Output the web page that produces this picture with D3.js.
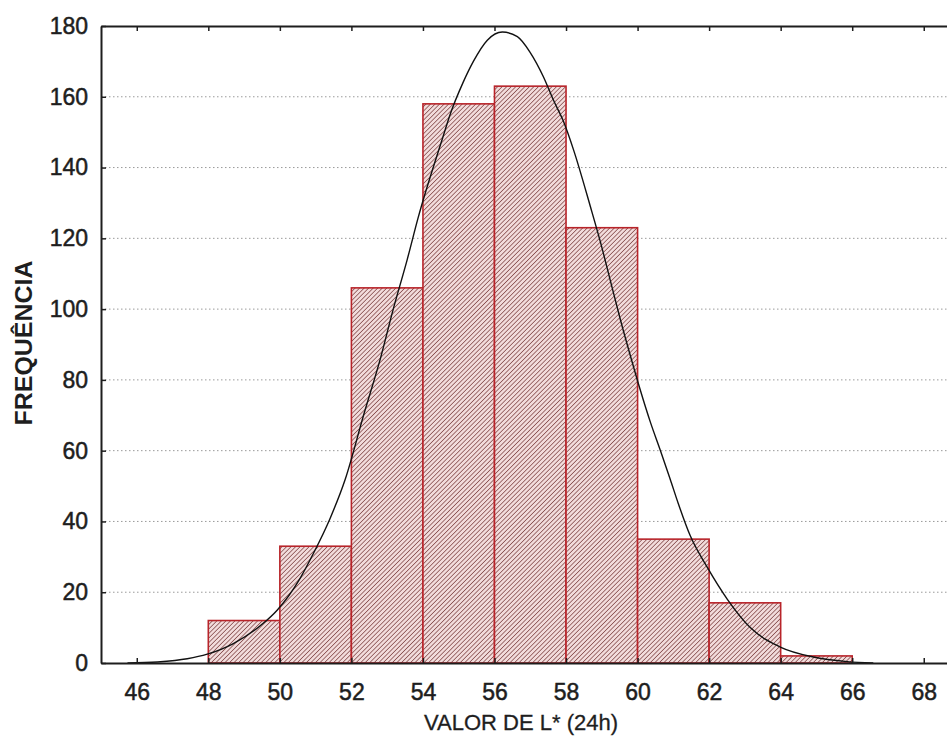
<!DOCTYPE html>
<html>
<head>
<meta charset="utf-8">
<script src="https://cdn.jsdelivr.net/npm/d3@7"></script>
<style>
  body { margin: 0; background: #fff; }
  text { font-family: "Liberation Sans", Arial, sans-serif; fill: #1e1e1e; }
</style>
</head>
<body>
<svg id="chart"></svg>
<script>
// histogram bins (classes of L*) and their frequencies
const binStart = [48, 50, 52, 54, 56, 58, 60, 62, 64];
const binEnd   = [50, 52, 54, 56, 58, 60, 62, 64, 66];
const counts   = [12, 33, 106, 158, 163, 123, 35, 17, 2];

// fitted normal curve
const curveX = [45.74, 46.58, 47.41, 47.97, 48.70, 49.51, 49.93, 50.57, 50.94, 51.41, 51.83,
  52.34, 52.81, 53.17, 53.56, 53.87, 54.57, 54.76, 55.12, 55.41, 55.80, 56.22, 56.64, 57.00,
  57.37, 57.65, 57.93, 58.21, 58.68, 58.96, 59.24, 59.52, 59.85, 60.08, 60.36, 60.64, 60.91,
  61.14, 61.47, 61.95, 62.51, 63.15, 63.99, 64.91, 65.86, 66.59];
const curveY = [0, 0.3, 1.2, 2.5, 5.5, 11, 15, 24, 31, 41, 52,
  70, 86, 100, 114, 126, 149, 155, 164, 170, 176, 178.3, 177, 172.5,
  165.6, 159, 153, 145, 129, 119, 108, 97, 85, 77, 68, 60, 52,
  45, 36, 27, 18, 10, 4.5, 1.7, 0.4, 0];

const xTicks = [46, 48, 50, 52, 54, 56, 58, 60, 62, 64, 66, 68];
const yTicks = [0, 20, 40, 60, 80, 100, 120, 140, 160, 180];

const W = 947, H = 747;
const plotLeft = 101, plotTop = 26, plotBottom = 663, plotRight = 947;

const svg = d3.select("#chart")
  .attr("width", W)
  .attr("height", H);

const x = d3.scaleLinear().domain([45, 68.65]).range([plotLeft, plotRight]);
const y = d3.scaleLinear().domain([0, 180]).range([plotBottom, plotTop]);

const defs = svg.append("defs");
const hatch = defs.append("pattern")
  .attr("id", "hatch")
  .attr("patternUnits", "userSpaceOnUse")
  .attr("width", 3.2)
  .attr("height", 3.2)
  .attr("patternTransform", "rotate(45)");
hatch.append("rect")
  .attr("width", 3.2).attr("height", 3.2)
  .attr("fill", "#f2dcdc");
hatch.append("line")
  .attr("x1", 0).attr("y1", 0).attr("x2", 0).attr("y2", 3.2)
  .attr("stroke", "#6e2e2e")
  .attr("stroke-width", 1.25);

// dotted gridlines
svg.append("g")
  .selectAll("line")
  .data(yTicks.filter(d => d > 0 && d < 180))
  .enter()
  .append("line")
  .attr("x1", plotLeft).attr("x2", plotRight)
  .attr("y1", d => y(d)).attr("y2", d => y(d))
  .attr("stroke", "#9a9a9a")
  .attr("stroke-width", 1)
  .attr("stroke-dasharray", "1.5,2.5");

// bars
svg.append("g")
  .selectAll("rect")
  .data(counts)
  .enter()
  .append("rect")
  .attr("x", (d, i) => x(binStart[i]))
  .attr("width", (d, i) => x(binEnd[i]) - x(binStart[i]))
  .attr("y", d => y(d))
  .attr("height", d => plotBottom - y(d))
  .attr("fill", "url(#hatch)")
  .attr("stroke", "#b8242a")
  .attr("stroke-width", 1.6);

// normal curve
const line = d3.line()
  .x(d => x(d[0]))
  .y(d => y(d[1]))
  .curve(d3.curveMonotoneX);

svg.append("path")
  .datum(curveX.map((v, i) => [v, curveY[i]]))
  .attr("fill", "none")
  .attr("stroke", "#111")
  .attr("stroke-width", 1.4)
  .attr("d", line);

// axes
const yAxis = svg.append("g")
  .attr("transform", `translate(${plotLeft},0)`)
  .call(d3.axisLeft(y).tickValues(yTicks).tickSize(-5).tickSizeOuter(0).tickPadding(13));

const xAxis = svg.append("g")
  .attr("transform", `translate(0,${plotBottom})`)
  .call(d3.axisBottom(x).tickValues(xTicks).tickSize(-5).tickSizeOuter(0).tickPadding(21));

const topAxis = svg.append("g")
  .attr("transform", `translate(0,${plotTop})`)
  .call(d3.axisTop(x).tickValues(xTicks).tickSize(-5).tickSizeOuter(0).tickFormat(""));

[yAxis, xAxis, topAxis].forEach(g => {
  g.select(".domain").attr("stroke", "#1e1e1e").attr("stroke-width", 2);
  g.selectAll(".tick line").attr("stroke", "#1e1e1e").attr("stroke-width", 1.5);
  g.selectAll(".tick text")
    .attr("font-family", "Liberation Sans, Arial, sans-serif")
    .attr("font-size", 23)
    .attr("fill", "#1e1e1e")
    .attr("stroke", "#1e1e1e")
    .attr("stroke-width", 0.5);
});

// axis titles
svg.append("text")
  .attr("x", 521)
  .attr("y", 730)
  .attr("text-anchor", "middle")
  .attr("font-size", 22)
  .attr("stroke", "#1e1e1e")
  .attr("stroke-width", 0.3)
  .text("VALOR DE L* (24h)");

svg.append("text")
  .attr("transform", "translate(32,343) rotate(-90)")
  .attr("text-anchor", "middle")
  .attr("font-size", 24)
  .attr("font-weight", "bold")
  .attr("textLength", 165)
  .attr("lengthAdjust", "spacingAndGlyphs")
  .text("FREQUÊNCIA");
</script>
</body>
</html>
